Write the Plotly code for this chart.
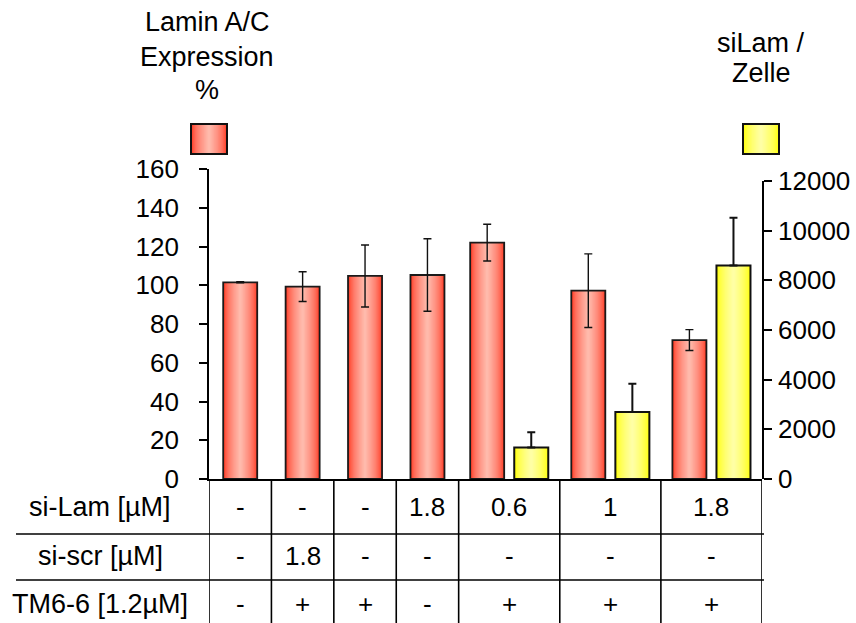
import plotly.graph_objects as go

# ---------------- data ----------------
groups = ["1", "2", "3", "4", "5", "6", "7"]
lamin_pct = [101.5, 99.3, 104.8, 105.3, 122.0, 97.2, 71.7]
lamin_err = [0.3, 7.7, 16.0, 18.7, 9.5, 19.0, 5.4]
silam_groups = ["5", "6", "7"]
silam_cell = [1270, 2700, 8600]
silam_err = [610, 1140, 1920]

row_labels = ["si-Lam [µM]", "si-scr [µM]", "TM6-6 [1.2µM]"]
row_silam = ["-", "-", "-", "1.8", "0.6", "1", "1.8"]
row_siscr = ["-", "1.8", "-", "-", "-", "-", "-"]
row_tm66 = ["-", "+", "+", "-", "+", "+", "+"]

left_ticks = [0, 20, 40, 60, 80, 100, 120, 140, 160]
right_ticks = [0, 2000, 4000, 6000, 8000, 10000, 12000]

# ---------------- layout helpers ----------------
FONT = "Liberation Sans, Arial, sans-serif"
W, H = 856, 623
L, R, T, B = 209, 94, 169, 144
PW, PH = W - L - R, H - T - B

single_w, double_w = 1.0, 1.62
gw = [double_w if g in silam_groups else single_w for g in groups]
bounds = [0.0]
for w in gw:
    bounds.append(bounds[-1] + w)
centers = [(bounds[i] + bounds[i + 1]) / 2 for i in range(len(groups))]
total = bounds[-1]
bar_w = 0.545
off = 0.353

red_x = [centers[i] - off if g in silam_groups else centers[i] for i, g in enumerate(groups)]
yel_x = [centers[groups.index(g)] + off for g in silam_groups]

def px2paper_x(px):
    return (px - L) / PW

def px2paper_y(py):
    return (H - B - py) / PH

def lerp(c1, c2, t):
    return "rgb(%d,%d,%d)" % tuple(round(a + (b - a) * t) for a, b in zip(c1, c2))

RED_EDGE, RED_MID = (255, 52, 30), (255, 186, 172)
YEL_EDGE, YEL_MID = (255, 255, 0), (255, 255, 165)
N = 14

fig = go.Figure()

def gradient_bars(xs, ys, yaxis, edge, mid):
    for k in range(N):
        frac = 1 - k / N
        t = (k / (N - 1)) ** 0.6
        fig.add_trace(go.Bar(
            x=xs, y=ys, width=bar_w * frac, yaxis=yaxis,
            marker=dict(color=lerp(edge, mid, t), line=dict(width=0)),
            showlegend=False, hoverinfo="skip"))

gradient_bars(red_x, lamin_pct, "y", RED_EDGE, RED_MID)
fig.add_trace(go.Bar(
    x=red_x, y=lamin_pct, width=bar_w, yaxis="y",
    marker=dict(color="rgba(0,0,0,0)", line=dict(width=1.8, color="#1a1a1a")),
    error_y=dict(type="data", array=lamin_err, visible=True,
                 color="#111", thickness=1.4, width=4),
    showlegend=False, name="Lamin A/C"))

gradient_bars(yel_x, silam_cell, "y2", YEL_EDGE, YEL_MID)
fig.add_trace(go.Bar(
    x=yel_x, y=silam_cell, width=bar_w, yaxis="y2",
    marker=dict(color="rgba(0,0,0,0)", line=dict(width=2, color="#111")),
    error_y=dict(type="data", array=silam_err, arrayminus=[0] * len(silam_err),
                 symmetric=False, visible=True, color="#111", thickness=2, width=4),
    showlegend=False, name="siLam / Zelle"))

shapes = []
# table vertical lines
for b in bounds:
    shapes.append(dict(type="line", xref="x", yref="paper", x0=b, x1=b,
                       y0=0, y1=px2paper_y(H + 2), line=dict(color="black", width=1.6)))
# table horizontal lines
for py in [534, 580]:
    shapes.append(dict(type="line", xref="paper", yref="paper",
                       x0=px2paper_x(16), x1=px2paper_x(764),
                       y0=px2paper_y(py), y1=px2paper_y(py),
                       line=dict(color="black", width=1.6)))

# legend boxes with gradient
def legend_box(cx_px, edge, mid):
    x0, x1 = cx_px - 18, cx_px + 18
    y0, y1 = 124, 154
    for k in range(N):
        frac = 1 - k / N
        t = (k / (N - 1)) ** 0.6
        hw = 18 * frac
        shapes.append(dict(type="rect", xref="paper", yref="paper",
                           x0=px2paper_x(cx_px - hw), x1=px2paper_x(cx_px + hw),
                           y0=px2paper_y(y1), y1=px2paper_y(y0),
                           fillcolor=lerp(edge, mid, t), line=dict(width=0), layer="above"))
    shapes.append(dict(type="rect", xref="paper", yref="paper",
                       x0=px2paper_x(x0), x1=px2paper_x(x1),
                       y0=px2paper_y(y1), y1=px2paper_y(y0),
                       line=dict(color="#111", width=2), layer="above"))

legend_box(209, RED_EDGE, RED_MID)
legend_box(761, YEL_EDGE, YEL_MID)

annotations = []
def txt(text, x, y, xref="paper", size=25, xanchor="center"):
    annotations.append(dict(text=text, x=x, y=y, xref=xref, yref="paper",
                            xanchor=xanchor, yanchor="middle", showarrow=False,
                            font=dict(family=FONT, size=size, color="black")))

for line, py in zip(["Lamin A/C", "Expression", "%"], [22, 57, 90]):
    txt(line, px2paper_x(207), px2paper_y(py), size=27)
for line, py in zip(["siLam /", "Zelle"], [43, 73]):
    txt(line, px2paper_x(761), px2paper_y(py), size=27)

row_y = [507, 556, 604]
for lab, py in zip(row_labels, row_y):
    txt(lab, px2paper_x(100), px2paper_y(py), size=27)
for row, py in zip([row_silam, row_siscr, row_tm66], row_y):
    for c, v in zip(centers, row):
        txt(v, c, px2paper_y(py), xref="x", size=26)

axis_common = dict(showline=True, linecolor="black", linewidth=1.6,
                   ticks="outside", ticklen=8, tickwidth=1.6, tickcolor="black",
                   showgrid=False, zeroline=False, automargin=False,
                   tickfont=dict(family=FONT, size=26, color="black"))

fig.update_layout(
    width=W, height=H,
    margin=dict(l=L, r=R, t=T, b=B, pad=0, autoexpand=False),
    paper_bgcolor="white", plot_bgcolor="rgba(0,0,0,0)",
    barmode="overlay",
    showlegend=False,
    xaxis=dict(range=[0, total], showline=True, linecolor="black", linewidth=1.6,
               showticklabels=False, ticks="", showgrid=False, zeroline=False,
               automargin=False, fixedrange=True),
    yaxis=dict(range=[0, 160], tickvals=left_ticks, ticklabelstandoff=15, **axis_common),
    yaxis2=dict(range=[0, 12000], tickvals=right_ticks, tickformat="d",
                anchor="x", side="right",
                domain=[0, 298 / 310], ticklabelstandoff=1, **axis_common),
    shapes=shapes,
    annotations=annotations,
)

fig.write_html(
    "out.html",
    config={"displayModeBar": False},
    post_script="document.body.style.margin='0';document.body.style.padding='0';"
                "document.body.style.overflow='hidden';",
)
